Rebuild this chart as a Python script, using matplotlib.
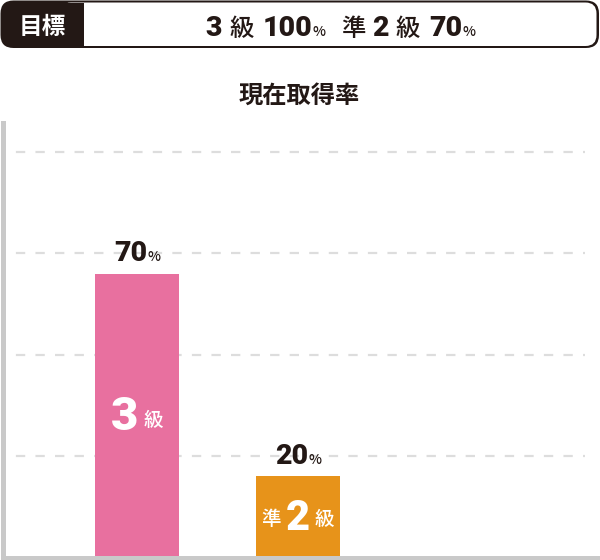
import re

import matplotlib
matplotlib.use("Agg")
import matplotlib.pyplot as plt
from matplotlib.patches import FancyBboxPatch, Rectangle
from matplotlib.transforms import IdentityTransform

plt.rcParams['font.family'] = ['Noto Sans CJK JP', 'DejaVu Sans']
DIGITS = ['Roboto', 'Noto Sans CJK JP']

# chart data
grades = ['3級', '準2級']
rates = [70, 20]          # current pass rate (%)
targets = [100, 70]       # goal (%)
title = '現在取得率'
goal_label = '目標'
gridlines = [25, 50, 75, 100]

bar_colors = ['#e8709f', '#e7931a']
inner_sizes = [34, 30]    # big digit size inside each bar
INK = '#231815'
GRID = '#dddddd'
AXIS = '#c9c9c9'

W, H = 600, 560
fig = plt.figure(figsize=(W / 100, H / 100), dpi=100)
renderer = fig.canvas.get_renderer()
px = IdentityTransform()


def draw_runs(x, y, runs, color):
    """Put text pieces side by side on one baseline, centred on x (pixels)."""
    items = []
    for gap, s, size, weight, dy in runs:
        fam = DIGITS if s.isdigit() else ['Noto Sans CJK JP', 'DejaVu Sans']
        t = fig.text(0, 0, s, fontsize=size, fontweight=weight, color=color,
                     family=fam, ha='left', va='baseline', transform=px)
        w = t.get_window_extent(renderer).width
        items.append((t, gap, w, dy))
    total = sum(g + w for _, g, w, _ in items)
    cx = x - total / 2
    for t, g, w, dy in items:
        cx += g
        t.set_position((cx, y + dy))
        cx += w


def split_grade(label):
    return re.findall(r'\d+|\D+', label)


# ---- header box ----
fig.add_artist(FancyBboxPatch((0.5, H - 48), 598.5, 47.5,
                              boxstyle='round,pad=0,rounding_size=13',
                              fc=INK, ec='none', transform=px))
fig.add_artist(FancyBboxPatch((60, H - 46), 536.5, 43.5,
                              boxstyle='round,pad=0,rounding_size=11',
                              fc='white', ec='none', transform=px))
fig.add_artist(Rectangle((40, H - 46), 44, 43.5, fc=INK, ec='none', transform=px))
fig.text(42, H - 33.5, goal_label, fontsize=17, fontweight='bold', color='white',
         ha='center', va='baseline', transform=px)

header_runs = []
for i, (g, tgt) in enumerate(zip(grades, targets)):
    for j, part in enumerate(split_grade(g)):
        gap = 0 if (i == 0 and j == 0) else (16 if j == 0 else 7)
        if part.isdigit():
            header_runs.append((gap, part, 20.5, 'black', 0))
        else:
            header_runs.append((gap, part, 17.5, 'medium', 0.5))
    header_runs.append((9, str(tgt), 20.5, 'black', 0))
    header_runs.append((0, '%', 10, 'medium', 0))
draw_runs(340.5, H - 36, header_runs, INK)

# ---- title ----
fig.text(299, H - 102.5, title, fontsize=17.5, fontweight='bold', color=INK,
         ha='center', va='baseline', transform=px)

# ---- bar chart ----
ax = fig.add_axes([2.5 / W, 2.5 / H, (W - 2.5) / W, (557.5 - 123) / H])
x = list(range(len(grades)))
ax.bar(x, rates, width=0.522, color=bar_colors, zorder=2)
ax.set_xlim(-0.835, 2.876)
ax.set_ylim(0, 107.1)
for gy in gridlines:
    ax.axhline(gy, xmin=0, xmax=(585 - 2.5) / (W - 2.5), color=GRID, lw=1.6,
               ls=(3, (4.2, 4.6)), zorder=1)
ax.set_xticks([])
ax.set_yticks([])
for side in ['top', 'right']:
    ax.spines[side].set_visible(False)
for side in ['left', 'bottom']:
    ax.spines[side].set_color(AXIS)
    ax.spines[side].set_linewidth(3.6)
    ax.spines[side].set_zorder(3)

for xi, rate, label, big in zip(x, rates, grades, inner_sizes):
    top_x, top_y = ax.transData.transform((xi, rate))
    draw_runs(top_x, top_y + 12.5, [(0, str(rate), 20.5, 'black', 0),
                                    (0, '%', 10, 'medium', 0)], INK)

    _, mid_y = ax.transData.transform((xi, rate / 2))
    digit_h = 0.71 * big * 100 / 72
    runs = []
    for j, part in enumerate(split_grade(label)):
        gap = 0 if j == 0 else 5
        if part.isdigit():
            runs.append((gap, part, big, 'black', 0))
        else:
            runs.append((gap, part, 14, 'medium', 4.5))
    draw_runs(top_x, mid_y - digit_h / 2 + 2, runs, 'white')

fig.savefig('out.png', dpi=100)
